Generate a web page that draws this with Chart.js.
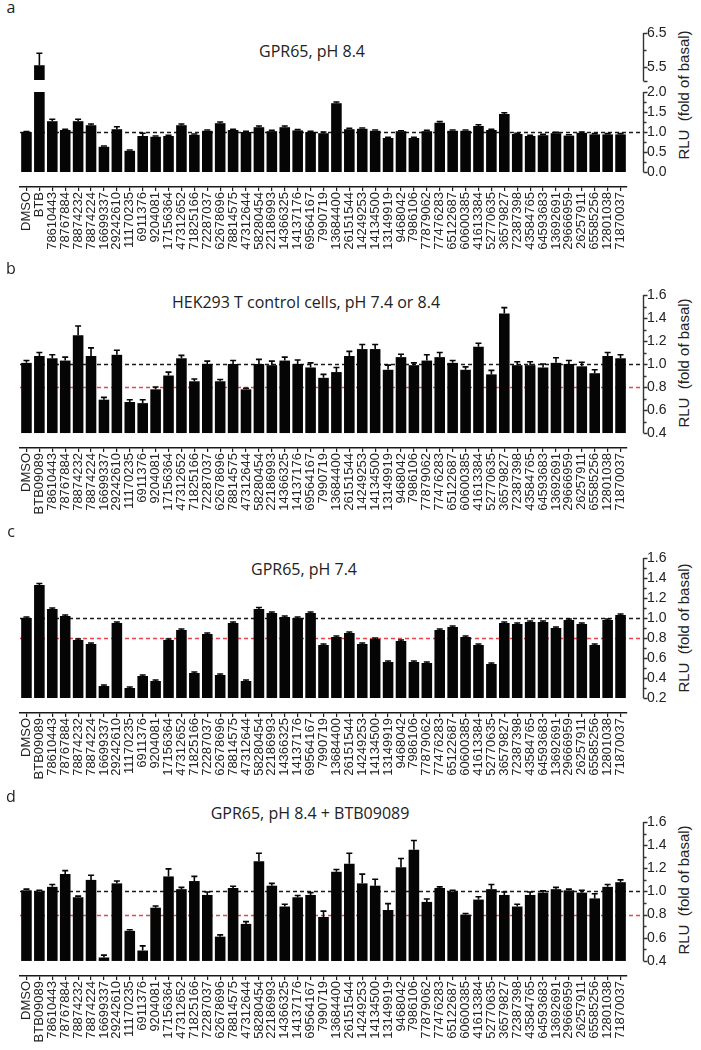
<!DOCTYPE html>
<html>
<head>
<meta charset="utf-8">
<script src="https://cdn.jsdelivr.net/npm/chart.js@4.4.1/dist/chart.umd.min.js"></script>
<style>
  html, body { margin: 0; padding: 0; background: #fff; }
  #fig { position: relative; width: 701px; height: 1050px; overflow: hidden; color: #222; font-family: "Open Sans", sans-serif; }
  .box { position: absolute; left: 0; width: 701px; }
  .letter { position: absolute; font-size: 16px; transform: translate(-50%, -50%); }
  .title { position: absolute; font-size: 16px; transform: translate(-50%, -50%); white-space: nowrap; }
  .ylab { position: absolute; font-family: "Liberation Sans", Arial, sans-serif; font-size: 15px; white-space: pre; transform: translate(-50%, -50%) rotate(-90deg); }
</style>
</head>
<body>
<div id="fig">
  <div class="letter" style="left:11px; top:7px;">a</div>
  <div class="title" style="left:312px; top:51px;">GPR65, pH 8.4</div>
  <div class="ylab" style="left:683px; top:95px;">RLU  (fold of basal)</div>
  <div class="box" style="top:20px; height:80px;"><canvas id="chartAHigh"></canvas></div>
  <div class="box" style="top:80px; height:185px;"><canvas id="chartALow"></canvas></div>

  <div class="letter" style="left:11px; top:268px;">b</div>
  <div class="title" style="left:306px; top:302px;">HEK293 T control cells, pH 7.4 or 8.4</div>
  <div class="ylab" style="left:683px; top:363px;">RLU  (fold of basal)</div>
  <div class="box" style="top:280px; height:245px;"><canvas id="chartB"></canvas></div>

  <div class="letter" style="left:11px; top:531px;">c</div>
  <div class="title" style="left:304px; top:569px;">GPR65, pH 7.4</div>
  <div class="ylab" style="left:683px; top:628px;">RLU  (fold of basal)</div>
  <div class="box" style="top:540px; height:250px;"><canvas id="chartC"></canvas></div>

  <div class="letter" style="left:11px; top:796px;">d</div>
  <div class="title" style="left:310px; top:813px;">GPR65, pH 8.4 + BTB09089</div>
  <div class="ylab" style="left:683px; top:890px;">RLU  (fold of basal)</div>
  <div class="box" style="top:805px; height:245px;"><canvas id="chartD"></canvas></div>
</div>
<script>
// compound IDs shared by all panels (after DMSO and the BTB control)
const compoundIds = [
  '78610443', '78767884', '78874232', '78874224', '16699337', '29242610', '11170235', '6911376',
  '9204081', '17156364', '47312652', '71825166', '72287037', '62678696', '78814575', '47312644',
  '58280454', '22186993', '14366325', '14137176', '69564167', '7990719', '13684400', '26151544',
  '14249253', '14134500', '13149919', '9468042', '7986106', '77879062', '77476283', '65122687',
  '60600385', '41613384', '52770635', '36579827', '72387398', '43584765', '64593683', '13692691',
  '29666959', '26257911', '65585256', '12801038', '71870037'
];
const labelsA = ['DMSO', 'BTB', ...compoundIds];
const labelsBtb = ['DMSO', 'BTB09089', ...compoundIds];

// a: GPR65, pH 8.4
const valuesA = [1.00, 5.56, 1.27, 1.05, 1.27, 1.17, 0.63, 1.07, 0.53, 0.90, 0.88, 0.90, 1.17, 0.93, 1.03, 1.22,
  1.05, 1.00, 1.12, 1.02, 1.12, 1.04, 1.00, 0.97, 1.72, 1.07, 1.08, 1.03, 0.85, 1.02, 0.85, 1.02,
  1.23, 1.03, 1.03, 1.15, 1.05, 1.45, 0.95, 0.90, 0.92, 0.97, 0.91, 0.98, 0.94, 0.94, 0.94];
const errorsA = [0.01, 0.35, 0.05, 0.02, 0.05, 0.03, 0.02, 0.06, 0.02, 0.07, 0.02, 0.02, 0.03, 0.02, 0.02, 0.03,
  0.02, 0.02, 0.03, 0.02, 0.03, 0.02, 0.02, 0.03, 0.03, 0.02, 0.02, 0.02, 0.02, 0.01, 0.02, 0.02,
  0.03, 0.02, 0.02, 0.03, 0.02, 0.03, 0.02, 0.02, 0.02, 0.02, 0.02, 0.02, 0.02, 0.02, 0.02];

// b: HEK293 T control cells
const valuesB = [1.01, 1.07, 1.05, 1.03, 1.25, 1.07, 0.69, 1.08, 0.67, 0.66, 0.78, 0.90, 1.05, 0.85, 1.00, 0.85,
  1.00, 0.78, 1.00, 0.99, 1.03, 1.00, 0.97, 0.88, 0.93, 1.07, 1.13, 1.13, 0.95, 1.06, 0.99, 1.03,
  1.06, 1.01, 0.95, 1.15, 0.91, 1.44, 0.99, 0.99, 0.97, 1.01, 1.00, 0.98, 0.92, 1.07, 1.05];
const errorsB = [0.02, 0.03, 0.03, 0.03, 0.08, 0.07, 0.02, 0.04, 0.02, 0.03, 0.02, 0.03, 0.025, 0.02, 0.025, 0.015,
  0.03, 0.01, 0.04, 0.035, 0.03, 0.035, 0.04, 0.03, 0.04, 0.04, 0.04, 0.04, 0.04, 0.025, 0.02, 0.05,
  0.04, 0.02, 0.025, 0.03, 0.035, 0.05, 0.03, 0.03, 0.03, 0.045, 0.03, 0.035, 0.03, 0.03, 0.03];

// c: GPR65, pH 7.4
const valuesC = [1.00, 1.33, 1.09, 1.02, 0.78, 0.74, 0.32, 0.95, 0.30, 0.42, 0.37, 0.78, 0.88, 0.45, 0.84, 0.43,
  0.95, 0.37, 1.09, 1.05, 1.01, 1.00, 1.05, 0.73, 0.81, 0.85, 0.74, 0.79, 0.56, 0.77, 0.56, 0.55,
  0.88, 0.91, 0.81, 0.73, 0.54, 0.95, 0.94, 0.96, 0.96, 0.90, 0.98, 0.94, 0.73, 0.98, 1.03];
const errorsC = [0.01, 0.015, 0.01, 0.01, 0.01, 0.01, 0.01, 0.01, 0.01, 0.01, 0.01, 0.01, 0.01, 0.01, 0.01, 0.01,
  0.01, 0.01, 0.015, 0.01, 0.01, 0.01, 0.01, 0.01, 0.01, 0.01, 0.01, 0.01, 0.01, 0.01, 0.01, 0.01,
  0.01, 0.01, 0.01, 0.01, 0.01, 0.01, 0.01, 0.01, 0.01, 0.01, 0.01, 0.01, 0.01, 0.01, 0.01];

// d: GPR65, pH 8.4 + BTB09089
const valuesD = [1.01, 1.00, 1.04, 1.15, 0.95, 1.10, 0.43, 1.07, 0.66, 0.49, 0.86, 1.13, 1.02, 1.09, 0.97, 0.61,
  1.03, 0.72, 1.26, 1.05, 0.87, 0.95, 0.97, 0.78, 1.17, 1.24, 1.07, 1.05, 0.84, 1.21, 1.36, 0.91,
  1.03, 1.00, 0.80, 0.93, 1.02, 0.97, 0.87, 0.97, 0.99, 1.02, 1.01, 0.99, 0.94, 1.04, 1.08];
const errorsD = [0.01, 0.01, 0.02, 0.03, 0.01, 0.04, 0.02, 0.02, 0.01, 0.04, 0.015, 0.065, 0.015, 0.04, 0.025, 0.015,
  0.015, 0.02, 0.07, 0.02, 0.02, 0.015, 0.02, 0.05, 0.02, 0.09, 0.08, 0.055, 0.055, 0.075, 0.08, 0.025,
  0.01, 0.01, 0.01, 0.025, 0.04, 0.025, 0.02, 0.025, 0.015, 0.015, 0.01, 0.02, 0.04, 0.02, 0.02];

// y tick labels
const ticksAHigh = [5.5, 6.5];
const ticksALow = [0.0, 0.5, 1.0, 1.5, 2.0];
const ticksBD = [0.4, 0.6, 0.8, 1.0, 1.2, 1.4, 1.6];
const ticksC = [0.2, 0.4, 0.6, 0.8, 1.0, 1.2, 1.4, 1.6];

const INK = '#1a1a1a';
const RED = '#e8464e';

Chart.defaults.font.family = '"Liberation Sans", Arial, sans-serif';
Chart.defaults.color = '#222';

// Prism-style offset right axis, reference lines and error bars
const offsetAxis = {
  id: 'offsetAxis',
  beforeDatasetsDraw(chart, args, opts) {
    const { ctx, chartArea } = chart;
    const y = chart.scales.y;
    const axisX = chartArea.right + opts.gap;
    ctx.save();
    ctx.lineWidth = 1.5;
    ctx.setLineDash([4, 3]);
    (opts.refLines || []).forEach(r => {
      const py = Math.round(y.getPixelForValue(r.value)) + 0.5;
      ctx.strokeStyle = r.color;
      ctx.beginPath();
      ctx.moveTo(chartArea.left, py);
      ctx.lineTo(axisX, py);
      ctx.stroke();
    });
    ctx.restore();
  },
  afterDatasetsDraw(chart, args, opts) {
    const { ctx } = chart;
    const y = chart.scales.y;
    const meta = chart.getDatasetMeta(0);
    const values = chart.data.datasets[0].data;
    ctx.save();
    ctx.strokeStyle = '#050505';
    ctx.lineWidth = 1.6;
    values.forEach((v, i) => {
      const e = opts.errors[i];
      if (v <= y.min || v + e > y.max) return;
      const bar = meta.data[i];
      const top = y.getPixelForValue(v + e);
      ctx.beginPath();
      ctx.moveTo(bar.x, bar.y);
      ctx.lineTo(bar.x, top);
      ctx.moveTo(bar.x - 3, top);
      ctx.lineTo(bar.x + 3, top);
      ctx.stroke();
    });
    ctx.restore();
  },
  afterDraw(chart, args, opts) {
    const { ctx, chartArea } = chart;
    const y = chart.scales.y;
    const x0 = Math.round(chartArea.right + opts.gap) + 0.5;
    const majors = y.ticks.map(t => t.value);
    ctx.save();
    ctx.strokeStyle = '#333';
    ctx.lineWidth = 1.4;
    ctx.beginPath();
    ctx.moveTo(x0, y.getPixelForValue(opts.axisFrom));
    ctx.lineTo(x0, y.getPixelForValue(y.max));
    majors.forEach(v => {
      const py = Math.round(y.getPixelForValue(v)) + 0.5;
      ctx.moveTo(x0, py);
      ctx.lineTo(x0 + 4, py);
    });
    for (let i = 1; i < majors.length; i++) {
      const py = Math.round(y.getPixelForValue((majors[i - 1] + majors[i]) / 2)) + 0.5;
      ctx.moveTo(x0, py);
      ctx.lineTo(x0 + 3, py);
    }
    if (!majors.includes(opts.axisFrom)) {
      const py = Math.round(y.getPixelForValue(opts.axisFrom)) + 0.5;
      ctx.moveTo(x0, py);
      ctx.lineTo(x0 + 4, py);
    }
    ctx.stroke();
    ctx.restore();
  }
};

function makePanel(id, cfg) {
  return new Chart(document.getElementById(id), {
    type: 'bar',
    data: {
      labels: cfg.labels,
      datasets: [{
        data: cfg.values,
        base: cfg.base,
        backgroundColor: '#050505',
        barPercentage: 0.82,
        categoryPercentage: 1,
        clip: { left: 0, right: 0, top: 0, bottom: cfg.showX ? 0 : -1 }
      }]
    },
    options: {
      responsive: true,
      maintainAspectRatio: false,
      animation: false,
      layout: { padding: { left: 20, right: 0, top: cfg.padTop, bottom: cfg.padBottom } },
      plugins: {
        legend: { display: false },
        tooltip: { enabled: false },
        offsetAxis: { gap: 16, axisFrom: cfg.base, errors: cfg.errors, refLines: cfg.refLines }
      },
      scales: {
        x: {
          display: cfg.showX,
          grid: { display: true, drawOnChartArea: false, drawTicks: true, tickLength: 4, offset: false, color: INK, lineWidth: 1.2 },
          border: { display: true, color: INK, width: 1.5 },
          ticks: { autoSkip: false, minRotation: 90, maxRotation: 90, padding: 1, color: '#222', font: { size: 13 } },
          afterFit: (s) => { s.height = cfg.showX ? 70 : 0; }
        },
        y: {
          position: 'right',
          min: cfg.min,
          max: cfg.max,
          // tick marks are drawn by the plugin; tickLength only pushes the labels out
          grid: { display: false, drawTicks: true, tickLength: 17 },
          border: { display: false },
          ticks: { padding: 3, color: '#222', font: { size: 14 }, callback: (v) => Number(v).toFixed(1) },
          afterBuildTicks: (s) => { s.ticks = cfg.ticks.map(v => ({ value: v })); },
          afterFit: (s) => { s.width = 74; }
        }
      }
    },
    plugins: [offsetAxis]
  });
}

function setupCharts() {
  // panel a is split into two charts to get the broken y axis
  makePanel('chartAHigh', {
    labels: labelsA, values: valuesA, errors: errorsA, ticks: ticksAHigh,
    min: 5.1, max: 6.5, base: 5.1, showX: false, padTop: 13, padBottom: 19, refLines: []
  });
  makePanel('chartALow', {
    labels: labelsA, values: valuesA, errors: errorsA, ticks: ticksALow,
    min: -0.375, max: 2.0, base: 0, showX: true, padTop: 12, padBottom: 8,
    refLines: [{ value: 1.0, color: INK }]
  });
  makePanel('chartB', {
    labels: labelsBtb, values: valuesB, errors: errorsB, ticks: ticksBD,
    min: 0.27, max: 1.6, base: 0.4, showX: true, padTop: 15, padBottom: 7,
    refLines: [{ value: 0.8, color: RED }, { value: 1.0, color: INK }]
  });
  makePanel('chartC', {
    labels: labelsBtb, values: valuesC, errors: errorsC, ticks: ticksC,
    min: 0.05, max: 1.6, base: 0.2, showX: true, padTop: 18, padBottom: 7,
    refLines: [{ value: 0.8, color: RED }, { value: 1.0, color: INK }]
  });
  makePanel('chartD', {
    labels: labelsBtb, values: valuesD, errors: errorsD, ticks: ticksBD,
    min: 0.27, max: 1.6, base: 0.4, showX: true, padTop: 17, padBottom: 4,
    refLines: [{ value: 0.8, color: RED }, { value: 1.0, color: INK }]
  });
}

document.addEventListener('DOMContentLoaded', setupCharts);
</script>
</body>
</html>
